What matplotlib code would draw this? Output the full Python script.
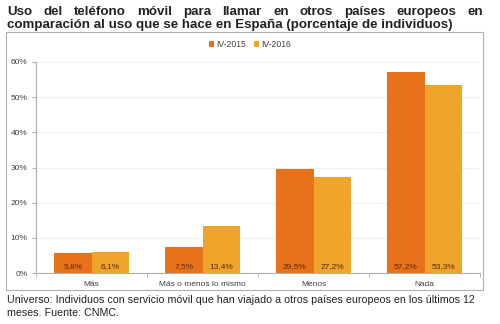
import matplotlib

matplotlib.use("Agg")
import matplotlib.pyplot as plt
from matplotlib.patches import Rectangle
import numpy as np

plt.rcParams["font.family"] = ["Liberation Sans", "DejaVu Sans"]

categories = ["Más", "Más o menos lo mismo", "Menos", "Nada"]
series_names = ["IV-2015", "IV-2016"]
iv2015 = [5.8, 7.5, 29.5, 57.2]
iv2016 = [6.1, 13.4, 27.2, 53.3]
yticks = [0, 10, 20, 30, 40, 50, 60]

title_lines = [
    "Uso del teléfono móvil para llamar en otros países europeos en",
    "comparación al uso que se hace en España (porcentaje de individuos)",
]
note_lines = [
    "Universo: Individuos con servicio móvil que han viajado a otros países europeos en los últimos 12",
    "meses. Fuente: CNMC.",
]

colors = ["#E8721B", "#EFA42C"]

fig = plt.figure(figsize=(5.0, 3.24), dpi=100)

# chart frame
fig.patches.append(Rectangle((0.012, 0.105), 0.954, 0.795, transform=fig.transFigure,
                             fill=False, edgecolor="#b0b0b0", linewidth=0.8))

ax = fig.add_axes([0.072, 0.157, 0.888, 0.652])
x = np.arange(len(categories))
w = 0.335
b1 = ax.bar(x - w / 2, iv2015, w, color=colors[0], label=series_names[0])
b2 = ax.bar(x + w / 2, iv2016, w, color=colors[1], label=series_names[1])
for bars, vals in ((b1, iv2015), (b2, iv2016)):
    for r, v in zip(bars, vals):
        ax.text(r.get_x() + r.get_width() / 2, 2.0, f"{v:.1f}%".replace(".", ","),
                ha="center", va="center", fontsize=6, color="#5a2a0a")

ax.set_xlim(-0.5, len(categories) - 0.5)
ax.set_ylim(0, 60)
ax.set_yticks(yticks)
ax.set_yticklabels([f"{t}%" for t in yticks], fontsize=6, color="#404040")
ax.set_xticks(x)
ax.set_xticklabels(categories, fontsize=6, color="#404040")
ax.tick_params(axis="x", length=0, pad=6)
ax.tick_params(axis="y", length=3, color="#b0b0b0", pad=3)
ax.set_xticks(np.arange(-0.5, len(categories)), minor=True)
ax.tick_params(axis="x", which="minor", length=3, color="#b0b0b0")
ax.grid(axis="y", color="#efefef", linewidth=0.8)
ax.set_axisbelow(True)
for s in ("top", "right"):
    ax.spines[s].set_visible(False)
for s in ("left", "bottom"):
    ax.spines[s].set_color("#b0b0b0")
    ax.spines[s].set_linewidth(0.8)

fig.legend(handles=[b1, b2], loc="center", bbox_to_anchor=(0.5, 0.862), ncol=2,
           frameon=False, fontsize=6.2, handlelength=0.6, handleheight=0.6,
           handletextpad=0.2, columnspacing=1.0, labelcolor="#404040")

# title, first line justified across the width
renderer = fig.canvas.get_renderer()
left, right = 0.014, 0.967
words = title_lines[0].split()
texts = [fig.text(0, 0.955, wd, fontsize=9.6, fontweight="bold", color="#222222", va="baseline")
         for wd in words]
widths = [t.get_window_extent(renderer).width / fig.bbox.width for t in texts]
gap = (right - left - sum(widths)) / (len(words) - 1)
pos = left
for t, wd in zip(texts, widths):
    t.set_x(pos)
    pos += wd + gap
fig.text(left, 0.914, title_lines[1], fontsize=9.6, fontweight="bold", color="#222222",
         va="baseline")

fig.text(0.014, 0.064, note_lines[0], fontsize=7.7, color="#222222", va="baseline")
fig.text(0.014, 0.024, note_lines[1], fontsize=7.7, color="#222222", va="baseline")

fig.savefig("out.png", dpi=100)
